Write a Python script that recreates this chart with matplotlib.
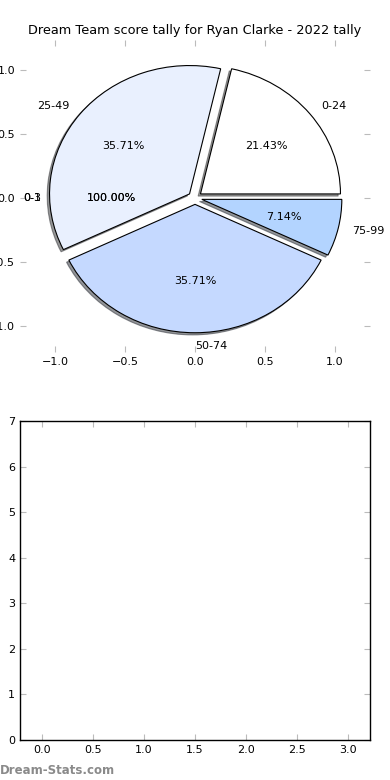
import matplotlib
matplotlib.use("Agg")
import matplotlib.pyplot as plt

# score bands and how many games fell in each
bands = ["0-24", "25-49", "50-74", "75-99"]
counts = [3, 5, 5, 1]
colours = ["#ffffff", "#e9f0fe", "#c5d9ff", "#b3d4ff"]
explode = [0.05, 0.05, 0.05, 0.05]

# leftover single-slice pies (only their labels show)
extra_labels = ["0-1", "0-3"]
extra_counts = [1, 1]

title = "Dream Team score tally for Ryan Clarke - 2022 tally"

fig = plt.figure(figsize=(3.9, 7.8), dpi=100)

ax = fig.add_axes([0.0513, 0.5487, 0.8974, 0.4])
for lab, c in zip(extra_labels, extra_counts):
    ax.pie([c], labels=[lab], autopct="%1.2f%%",
           wedgeprops=dict(visible=False),
           textprops=dict(fontsize=8))
ax.pie(counts, labels=bands, colors=colours, explode=explode,
       shadow=dict(ox=-0.012, oy=-0.012, shade=0.8),
       autopct="%1.2f%%", wedgeprops=dict(edgecolor="black", linewidth=0.8),
       textprops=dict(fontsize=8))
ax.set_aspect("auto")
ax.set_frame_on(False)
ax.set_xlim(-1.25, 1.25)
ax.set_ylim(-1.2, 1.23)
ax.set_xticks([-1.0, -0.5, 0.0, 0.5, 1.0])
ax.set_yticks([-1.0, -0.5, 0.0, 0.5, 1.0])
ax.tick_params(direction="in", length=4, color="#bbbbbb", labelsize=8,
               top=True, right=True)
ax.set_title(title, fontsize=9.3, pad=4)

ax2 = fig.add_axes([0.0513, 0.0513, 0.8974, 0.409])
ax2.set_xlim(-0.22, 3.22)
ax2.set_ylim(0, 7)
ax2.set_xticks([0.0, 0.5, 1.0, 1.5, 2.0, 2.5, 3.0])
ax2.set_yticks(range(8))
ax2.tick_params(direction="in", length=4, color="#bbbbbb", labelsize=8,
                top=True, right=True)
for s in ax2.spines.values():
    s.set_color("black")
    s.set_linewidth(1)

fig.text(0.0, 0.004, "Dream-Stats.com", color="#8a8a8a", fontsize=8.5,
         fontweight="bold", ha="left", va="bottom")

fig.savefig("out.png", dpi=100)
